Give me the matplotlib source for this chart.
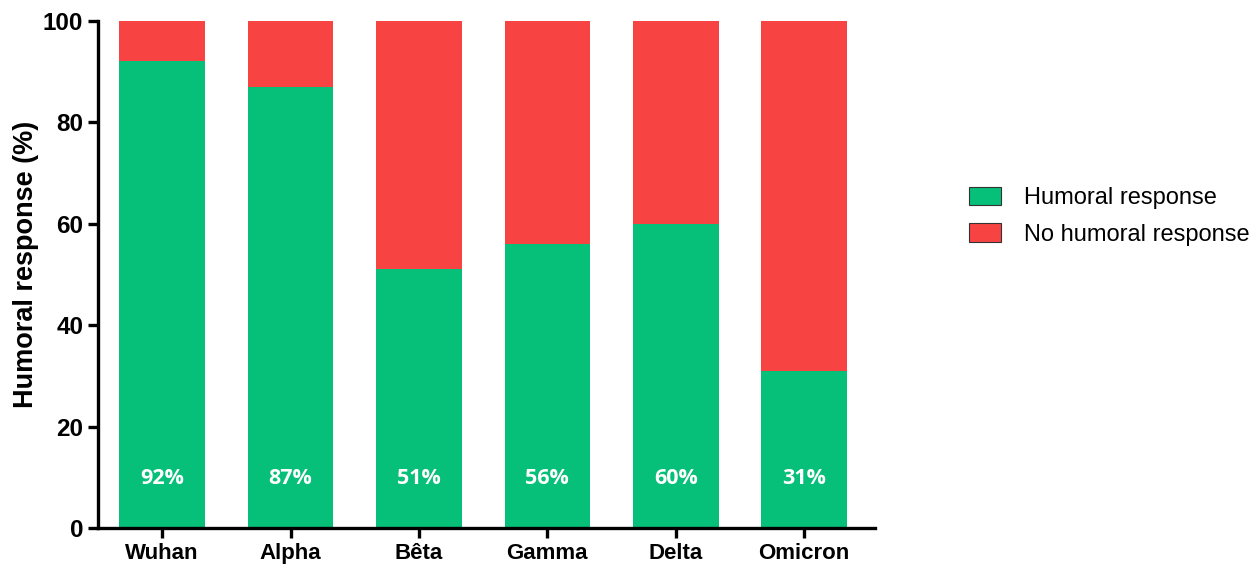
import numpy as np
import matplotlib.pyplot as plt
from matplotlib.patches import Patch

# Data
variants = ['Wuhan', 'Alpha', 'Bêta', 'Gamma', 'Delta', 'Omicron']
humoral = [92, 87, 51, 56, 60, 31]
no_humoral = [100 - v for v in humoral]

green = '#06BF78'
red = '#F84343'

plt.rcParams['font.family'] = ['Liberation Sans', 'DejaVu Sans']

fig = plt.figure(figsize=(12.59, 5.65), dpi=100)
ax = fig.add_axes([0.0778, 0.0655, 0.617, 0.8975])

x = np.arange(len(variants))
ax.bar(x, humoral, width=0.667, color=green)
ax.bar(x, no_humoral, bottom=humoral, width=0.667, color=red)

for xi, v in zip(x, humoral):
    ax.text(xi, 9.8, f'{v}%', ha='center', va='center', color='white',
            fontsize=15.5, fontweight='bold', family=['Open Sans', 'DejaVu Sans'])

ax.set_xlim(-0.5, 5.55)
ax.set_ylim(0, 100)
ax.set_yticks([0, 20, 40, 60, 80, 100])
ax.set_xticks(x)
ax.set_xticklabels(variants)
ax.set_ylabel('Humoral response (%)', fontsize=19.5, fontweight='bold')
ax.yaxis.set_label_coords(-0.076, 0.52)

for lbl in ax.get_xticklabels():
    lbl.set_fontweight('bold')
    lbl.set_fontsize(16)
for lbl in ax.get_yticklabels():
    lbl.set_fontweight('bold')
    lbl.set_fontsize(17.5)

ax.spines['top'].set_visible(False)
ax.spines['right'].set_visible(False)
ax.spines['left'].set_linewidth(2.4)
ax.spines['bottom'].set_linewidth(2.4)
ax.tick_params(width=2.4, length=7)

handles = [Patch(facecolor=green, edgecolor='#333333', linewidth=0.8),
           Patch(facecolor=red, edgecolor='#333333', linewidth=0.8)]
labels = ['Humoral response', 'No humoral response']
fig.legend(handles, labels, loc='center left', bbox_to_anchor=(0.76, 0.617),
           frameon=False, fontsize=17, handlelength=1.35, handleheight=0.8,
           labelspacing=0.6, handletextpad=1.0, borderpad=0)

plt.savefig('out.png', dpi=100)
